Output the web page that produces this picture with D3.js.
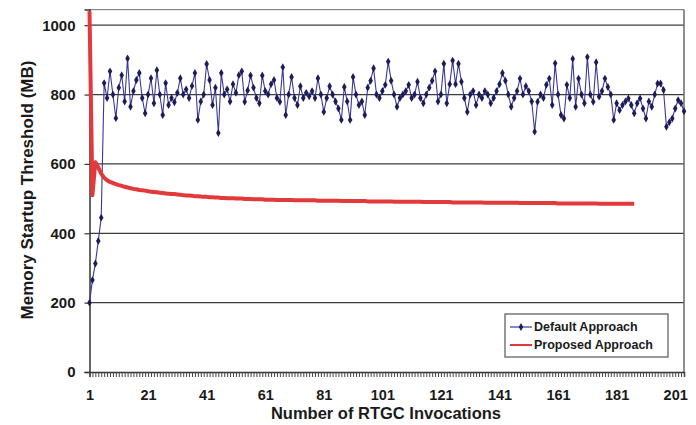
<!DOCTYPE html>
<html>
<head>
<meta charset="utf-8">
<script src="https://cdn.jsdelivr.net/npm/d3@7/dist/d3.min.js"></script>
<style>
  html, body { margin: 0; padding: 0; background: #ffffff; }
  svg { display: block; }
  text { font-family: "Liberation Sans", Arial, Helvetica, sans-serif; font-weight: bold; fill: #1a1a1a; }
</style>
</head>
<body>
<svg id="chart" width="696" height="425"></svg>
<script>
// ---------------- DATA ----------------
const xTickLabels = [1, 21, 41, 61, 81, 101, 121, 141, 161, 181, 201];
const yTickLabels = [0, 200, 400, 600, 800, 1000];
const seriesNames = ["Default Approach", "Proposed Approach"];

// Default Approach (one value per RTGC invocation, 1..204)
const defaultValues = [
  200, 265, 313, 378, 445, 833, 790, 867, 800, 732,
  820, 856, 780, 904, 765, 810, 842, 862, 790, 746,
  800, 847, 775, 870, 800, 741, 833, 770, 790, 778,
  805, 847, 800, 815, 790, 825, 862, 727, 780, 800,
  888, 842, 770, 820, 689, 862, 800, 815, 780, 830,
  805, 856, 867, 779, 812, 855, 820, 790, 775, 855,
  810, 800, 830, 842, 790, 779, 879, 741, 800, 851,
  790, 770, 824, 790, 805, 795, 810, 790, 847, 800,
  750, 790, 824, 800, 780, 760, 727, 822, 780, 727,
  851, 800, 770, 780, 741, 820, 840, 876, 800, 790,
  810, 828, 895, 840, 800, 765, 790, 800, 810, 828,
  790, 800, 837, 790, 775, 800, 820, 840, 867, 780,
  800, 889, 775, 830, 898, 830, 889, 837, 790, 750,
  800, 810, 770, 800, 790, 810, 800, 775, 790, 810,
  830, 862, 840, 800, 765, 790, 810, 846, 800, 824,
  810, 780, 693, 779, 800, 790, 828, 846, 770, 890,
  800, 741, 731, 828, 790, 903, 765, 846, 800, 775,
  908, 800, 779, 893, 794, 810, 846, 822, 800, 727,
  775, 755, 770, 780, 789, 770, 746, 775, 789, 760,
  731, 780, 765, 800, 832, 832, 813, 707, 720, 731,
  760, 784, 775, 752
];

// Proposed Approach (1..187)
const proposedValues = [
  1040, 510, 605, 590, 572, 560, 553, 548, 545, 542,
  539, 537, 534, 532, 530, 528, 527, 525, 524, 523,
  521, 520, 519, 518, 517, 516, 515, 514, 513, 513,
  512, 511, 510, 509, 509, 508, 507, 507, 506, 505,
  505, 504, 504, 503, 503, 502, 502, 501, 501, 501,
  500, 500, 500, 499, 499, 499, 498, 498, 498, 498,
  497, 497, 497, 497, 496, 496, 496, 496, 496, 496,
  495, 495, 495, 495, 495, 495, 495, 495, 494, 494,
  494, 494, 494, 494, 494, 494, 493, 493, 493, 493,
  493, 493, 493, 493, 493, 492, 492, 492, 492, 492,
  492, 492, 492, 492, 491, 491, 491, 491, 491, 491,
  491, 491, 491, 491, 490, 490, 490, 490, 490, 490,
  490, 490, 490, 490, 489, 489, 489, 489, 489, 489,
  489, 489, 489, 489, 489, 488, 488, 488, 488, 488,
  488, 488, 488, 488, 488, 488, 488, 487, 487, 487,
  487, 487, 487, 487, 487, 487, 487, 487, 487, 487,
  486, 486, 486, 486, 486, 486, 486, 486, 486, 486,
  486, 486, 486, 486, 485, 485, 485, 485, 485, 485,
  485, 485, 485, 485, 485, 485, 485
];

// ---------------- CHART ----------------
const svg = d3.select("#chart");
const mLeft = 89.5, mRight = 684, mTop = 9.6, mBottom = 372;

const nCat = defaultValues.length;
const x = d3.scaleLinear().domain([1, nCat]).range([mLeft, mRight]);
const y = d3.scaleLinear().domain([0, 1045]).range([mBottom, mTop]);

// gridlines
svg.append("g")
  .selectAll("line")
  .data(yTickLabels.filter(v => v > 0))
  .join("line")
  .attr("x1", mLeft).attr("x2", mRight)
  .attr("y1", d => y(d)).attr("y2", d => y(d))
  .attr("stroke", "#3c3c3c").attr("stroke-width", 1.2);

// plot border top/right
svg.append("line").attr("x1", mLeft).attr("x2", mRight).attr("y1", mTop).attr("y2", mTop)
  .attr("stroke", "#8a8a8a").attr("stroke-width", 1.2);
svg.append("line").attr("x1", mRight).attr("x2", mRight).attr("y1", mTop).attr("y2", mBottom)
  .attr("stroke", "#6a6a6a").attr("stroke-width", 1.5);

// Y axis
const yAxis = d3.axisLeft(y).tickValues(yTickLabels).tickSize(5).tickPadding(9).tickFormat(d3.format("d"));
const gy = svg.append("g").attr("transform", `translate(${mLeft},0)`).call(yAxis);
gy.select(".domain").attr("stroke", "#333").attr("stroke-width", 1.5);
gy.selectAll(".tick line").attr("stroke", "#333").attr("stroke-width", 1.2);
gy.selectAll(".tick text").style("font-size", "15px").style("font-weight", "bold")
  .attr("fill", "#1a1a1a").attr("font-family", null);

// X axis: tick mark at every category (no labels)
const cats = d3.range(1, nCat + 1);
const xAxisTicks = d3.axisBottom(x).tickValues(cats).tickSize(5).tickFormat(() => "");
const gx = svg.append("g").attr("transform", `translate(0,${mBottom})`).call(xAxisTicks);
gx.select(".domain").attr("stroke", "#333").attr("stroke-width", 1.5);
gx.selectAll(".tick line").attr("stroke", "#444").attr("stroke-width", 1);
gx.selectAll(".tick text").remove();

// X axis labels every 20 categories
const xAxisLabels = d3.axisBottom(x).tickValues(xTickLabels).tickSize(0).tickPadding(18).tickFormat(d3.format("d"));
const gxl = svg.append("g").attr("transform", `translate(0,${mBottom})`).call(xAxisLabels);
gxl.select(".domain").remove();
gxl.selectAll(".tick text").style("font-size", "14.5px").style("font-weight", "bold")
  .attr("fill", "#1a1a1a").attr("font-family", null);

// Default Approach series
const lineDefault = d3.line().x((d, i) => x(i + 1)).y(d => y(d));
svg.append("path").datum(defaultValues)
  .attr("d", lineDefault).attr("fill", "none")
  .attr("stroke", "#3a3a96").attr("stroke-width", 1.1);
const diamond = d3.symbol().type(d3.symbolDiamond).size(18);
svg.append("g").selectAll("path")
  .data(defaultValues)
  .join("path")
  .attr("d", diamond)
  .attr("transform", (d, i) => `translate(${x(i + 1)},${y(d)})`)
  .attr("fill", "#1c1c5a");

// Proposed Approach series
const lineProposed = d3.line().x((d, i) => x(i + 1)).y(d => y(d));
svg.append("path").datum(proposedValues)
  .attr("d", lineProposed).attr("fill", "none")
  .attr("stroke", "#e2393a").attr("stroke-width", 4)
  .attr("stroke-linejoin", "round");

// Axis titles
svg.append("text")
  .attr("x", 386).attr("y", 419)
  .attr("text-anchor", "middle")
  .style("font-size", "16.5px")
  .text("Number of RTGC Invocations");
svg.append("text")
  .attr("transform", "translate(33,190) rotate(-90)")
  .attr("text-anchor", "middle")
  .style("font-size", "17px")
  .text("Memory Startup Threshold (MB)");

// Legend
const lg = svg.append("g");
lg.append("rect").attr("x", 505).attr("y", 314).attr("width", 163).attr("height", 43)
  .attr("fill", "#fff").attr("stroke", "#555").attr("stroke-width", 1.2);
lg.append("line").attr("x1", 510).attr("x2", 532).attr("y1", 327).attr("y2", 327)
  .attr("stroke", "#3a3a96").attr("stroke-width", 1.2);
lg.append("path").attr("d", diamond).attr("transform", "translate(521,327)").attr("fill", "#1c1c5a");
lg.append("line").attr("x1", 510).attr("x2", 532).attr("y1", 345).attr("y2", 345)
  .attr("stroke", "#e2393a").attr("stroke-width", 2);
lg.selectAll("text.leg").data(seriesNames).join("text")
  .attr("class", "leg")
  .attr("x", 534).attr("y", (d, i) => 331 + i * 18)
  .style("font-size", "12.5px")
  .text(d => d);
</script>
</body>
</html>
